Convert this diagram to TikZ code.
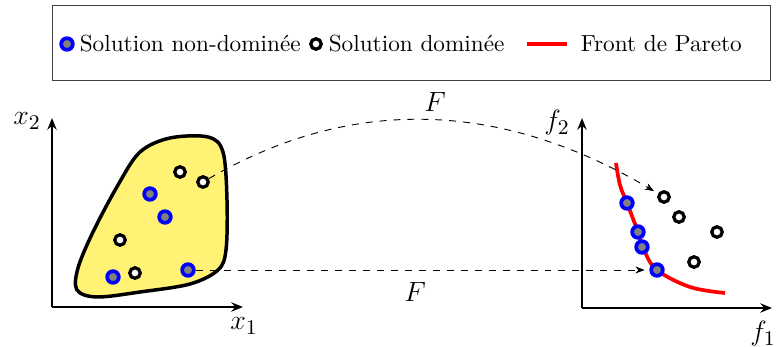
\documentclass[tikz,border=0pt]{standalone}
\usetikzlibrary{arrows.meta}
\definecolor{blobfill}{RGB}{255,242,117}
\begin{document}
\begin{tikzpicture}[x=0.43pt,y=-0.43pt,
  nondom/.style={circle,draw=blue,fill=gray,line width=1.6pt,minimum size=5pt,inner sep=0pt},
  domin/.style={circle,draw=black,fill=white,line width=1.4pt,minimum size=4.5pt,inner sep=0pt},
  axisline/.style={line width=0.9pt,-{Stealth[length=5pt,width=4pt]}},
  maparrow/.style={dashed,line width=0.4pt,-{Stealth[length=4pt,width=3pt]}},
  lbl/.style={inner sep=1pt},
  axlbl/.style={inner sep=1pt,font=\fontsize{13}{15}\selectfont},
  leg/.style={inner sep=1pt,anchor=west,font=\normalsize}]
\useasboundingbox (0,0) rectangle (777,347);
% legend
\node[draw=black!75,line width=0.4pt,minimum width=718*0.43pt,minimum height=75*0.43pt,inner sep=0pt] (legend) at (411,42.5) {};
\node[nondom] (ln) at (67,44) {};
\node[leg] (lnt) at (77,44) {Solution non-domin\'ee};
\node[domin] (ld) at (316,44) {};
\node[leg] (ldt) at (326,44) {Solution domin\'ee};
\coordinate (lra) at (527,44);
\coordinate (lrb) at (567,44);
\draw[red,line width=1.6pt] (lra) -- (lrb);
\node[leg] (lrt) at (578,44) {Front de Pareto};
% left axes
\coordinate (o1) at (52,307);
\coordinate (y1) at (52,118);
\coordinate (x1) at (243,307);
\draw[axisline] (o1) -- (y1);
\draw[axisline] (o1) -- (x1);
\node[axlbl] (lx2) at (27,121) {$x_2$};
\node[axlbl] (lx1) at (244,326) {$x_1$};
% blob
\draw[line width=1.5pt,fill=blobfill] plot[smooth cycle,tension=0.55] coordinates
 {(140,152) (170,138) (208,137) (223,152) (227,200) (226,250) (218,270) (190,284) (140,292) (97,297) (77,290) (78,268) (93,232) (118,185)};
% decision space points
\node[domin] (d1) at (180,172) {};
\node[domin] (d2) at (203,182) {};
\node[nondom] (n1) at (150,194) {};
\node[nondom] (n2) at (165,217) {};
\node[domin] (d3) at (120,240) {};
\node[nondom] (n3) at (188,270) {};
\node[domin] (d4) at (135,273) {};
\node[nondom] (n4) at (113,277) {};
% right axes
\coordinate (o2) at (582,308);
\coordinate (y2) at (582,118);
\coordinate (x2) at (772,308);
\draw[axisline] (o2) -- (y2);
\draw[axisline] (o2) -- (x2);
\node[axlbl] (lf2) at (557,123) {$f_2$};
\node[axlbl] (lf1) at (763,334) {$f_1$};
% Pareto front
\draw[red,line width=1.6pt] plot[smooth,tension=0.6] coordinates
 {(616,163) (620,185) (627,203) (638,232) (644,250) (657,270) (690,287) (725,293)};
\node[nondom] (p1) at (627,203) {};
\node[nondom] (p2) at (638,232) {};
\node[nondom] (p3) at (642,247) {};
\node[nondom] (p4) at (657,270) {};
\node[domin] (t1) at (664,197) {};
\node[domin] (t2) at (679,217) {};
\node[domin] (t3) at (717,232) {};
\node[domin] (t4) at (694,262) {};
% mappings
\draw[maparrow,shorten >=2pt] (d2) .. controls (351,96) and (500,100) .. (t1);
\draw[maparrow,shorten >=2pt] (n3) -- (p4);
\node[lbl,font=\large] (F1) at (435,102) {$F$};
\node[lbl,font=\large] (F2) at (415,292) {$F$};
\end{tikzpicture}
\end{document}
